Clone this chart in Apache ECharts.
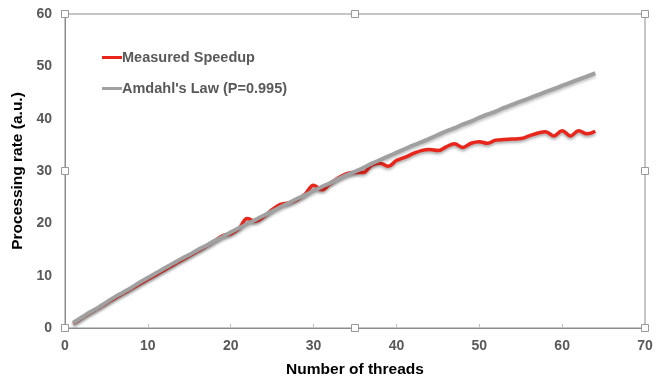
<!DOCTYPE html>
<html><head><meta charset="utf-8">
<script src="https://cdn.jsdelivr.net/npm/echarts@6/dist/echarts.min.js"></script>
<style>html,body{margin:0;padding:0;background:#fff}#c{width:660px;height:378px}</style>
</head><body><div id="c"></div>
<script>
var threads = [];
for (var i = 1; i <= 64; i++) threads.push(i);
var measured = [0.9,1.9,2.9,3.8,4.8,5.7,6.6,7.5,8.4,9.3,10.2,11.1,12.0,12.9,13.8,14.7,15.6,16.6,17.6,18.0,
  19.0,20.9,20.4,21.3,22.6,23.6,23.9,24.5,25.6,27.3,26.4,27.6,28.7,29.5,29.7,29.7,31.1,31.5,30.9,32.0,
  32.6,33.3,33.9,34.1,33.9,34.6,35.2,34.5,35.3,35.6,35.3,35.9,36.0,36.1,36.2,36.7,37.2,37.5,36.7,37.7,
  36.7,37.7,37.1,37.6];
var amdahl = [1.0,2.0,3.0,3.9,4.9,5.9,6.8,7.7,8.7,9.6,10.5,11.4,12.3,13.2,14.0,14.9,15.7,16.6,17.4,18.3,
  19.1,19.9,20.7,21.5,22.3,23.1,23.9,24.7,25.4,26.2,27.0,27.7,28.5,29.2,29.9,30.6,31.4,32.1,32.8,33.5,
  34.2,34.9,35.5,36.2,36.9,37.6,38.2,38.9,39.5,40.2,40.8,41.4,42.1,42.7,43.3,43.9,44.5,45.1,45.7,46.3,
  46.9,47.5,48.1,48.7];
var xTicks = [0,10,20,30,40,50,60,70];
var yTicks = [0,10,20,30,40,50,60];
var seriesNames = ['Measured Speedup', "Amdahl's Law (P=0.995)"];

function pairs(vals){ return threads.map(function(t,i){ return [t, vals[i]]; }); }

var chart = echarts.init(document.getElementById('c'), null, {renderer:'canvas'});
var font = '"Liberation Sans", Arial, sans-serif';
var lblColor = '#595959';
chart.setOption({
  animation: false,
  backgroundColor: '#fff',
  grid: {left: 65, right: 15, top: 14, bottom: 50, containLabel: false, outerBoundsMode: 'none',
         show: true, borderColor: '#8c8c8c', borderWidth: 1, backgroundColor: 'transparent'},
  legend: {
    orient: 'vertical', left: 97, top: 45, itemWidth: 20, itemHeight: 3, itemGap: 16,
    icon: 'rect',
    data: seriesNames,
    textStyle: {fontFamily: font, fontWeight: 'bold', fontSize: 14.5, color: lblColor, padding: [0,0,0,-5]}
  },
  xAxis: {
    type: 'value', min: xTicks[0], max: xTicks[xTicks.length-1], interval: 10,
    name: 'Number of threads', nameLocation: 'middle', nameGap: 34,
    nameTextStyle: {fontFamily: font, fontWeight: 'bold', fontSize: 15.5, color: '#000'},
    axisLine: {show: true, lineStyle: {color: '#8c8c8c', width: 1}},
    axisTick: {show: true, inside: true, length: 4, lineStyle: {color: '#bfbfbf'}},
    axisLabel: {fontFamily: font, fontWeight: 'bold', fontSize: 14, color: lblColor, margin: 11},
    splitLine: {show: false}
  },
  yAxis: {
    type: 'value', min: yTicks[0], max: yTicks[yTicks.length-1], interval: 10,
    name: 'Processing rate (a.u.)', nameLocation: 'middle', nameGap: 35, nameRotate: 90,
    nameTextStyle: {fontFamily: font, fontWeight: 'bold', fontSize: 15.5, color: '#000'},
    axisLine: {show: true, lineStyle: {color: '#8c8c8c', width: 1}},
    axisTick: {show: false},
    axisLabel: {fontFamily: font, fontWeight: 'bold', fontSize: 14, color: lblColor, margin: 13},
    splitLine: {show: false}
  },
  series: [
    {name: seriesNames[0], type: 'line', data: pairs(measured), smooth: 0.4, showSymbol: false, symbol: 'none',
     itemStyle: {color: '#e8261c'},
     lineStyle: {color: '#e8261c', width: 3.5, shadowColor: 'rgba(0,0,0,0.35)', shadowBlur: 3, shadowOffsetY: 2}, z: 2},
    {name: seriesNames[1], type: 'line', data: pairs(amdahl), smooth: true, showSymbol: false, symbol: 'none',
     itemStyle: {color: '#a0a0a0'},
     lineStyle: {color: '#a0a0a0', width: 4, shadowColor: 'rgba(0,0,0,0.25)', shadowBlur: 3, shadowOffsetY: 2}, z: 3}
  ]
});

// selection handles around the plot frame (decorative)
var gr = chart.getModel().getComponent('grid').coordinateSystem.getRect();
var hx = [gr.x, gr.x + gr.width/2, gr.x + gr.width];
var hy = [gr.y, gr.y + gr.height/2, gr.y + gr.height];
var handles = [];
hx.forEach(function(x, i){ hy.forEach(function(y, j){
  if (i === 1 && j === 1) return;
  handles.push({type: 'rect', shape: {x: Math.round(x) - 3.5, y: Math.round(y) - 3.5, width: 7, height: 7},
    style: {fill: '#fff', stroke: '#999', lineWidth: 1}, z: 100});
}); });
chart.setOption({graphic: handles});
</script></body></html>
